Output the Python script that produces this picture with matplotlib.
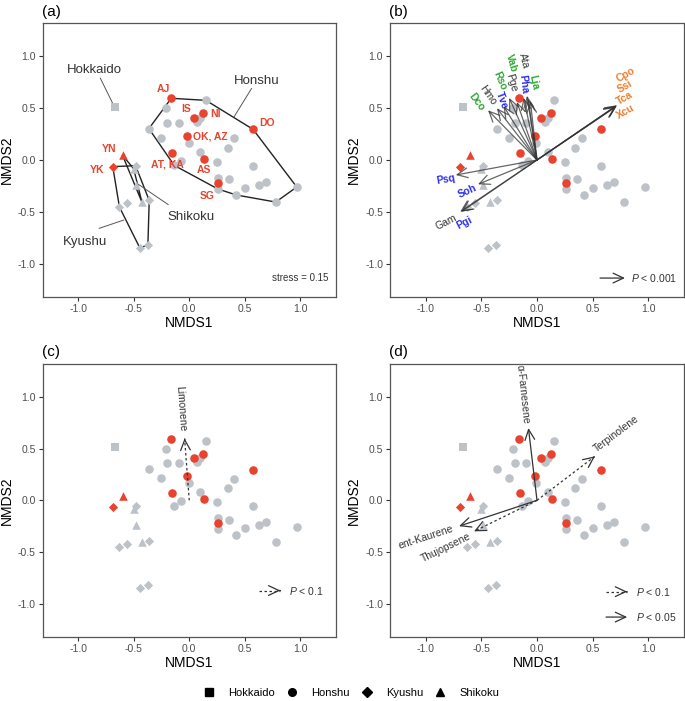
import matplotlib
matplotlib.use('Agg')
import matplotlib.pyplot as plt
from matplotlib.lines import Line2D
import numpy as np

plt.rcParams['font.family'] = ['Liberation Sans', 'DejaVu Sans']
plt.rcParams['mathtext.fontset'] = 'custom'
plt.rcParams['mathtext.it'] = 'Liberation Sans:italic'
plt.rcParams['mathtext.rm'] = 'Liberation Sans'

# NMDS scores, grey = populations, red = sampled sites
hokkaido_x = [-0.667]
hokkaido_y = [0.515]
honshu_x = [0.150, -0.213, -0.201, -0.096, -0.363, -0.252, 0.069, 0.099, -0.006,
            0.400, 0.345, 0.099, -0.078, -0.135, 0.252, 0.577, 0.258, 0.360,
            0.258, 0.423, 0.505, 0.628, 0.691, 0.778, 0.967]
honshu_y = [0.576, 0.499, 0.361, 0.361, 0.303, 0.216, 0.370, 0.409, 0.167,
            0.209, 0.119, 0.077, -0.010, -0.052, -0.016, -0.058, -0.174, -0.187,
            -0.280, -0.338, -0.270, -0.242, -0.213, -0.406, -0.261]
kyushu_x = [-0.483, -0.628, -0.556, -0.360, -0.444, -0.372]
kyushu_y = [-0.055, -0.454, -0.419, -0.390, -0.850, -0.818]
shikoku_x = [-0.500, -0.483, -0.426]
shikoku_y = [-0.084, -0.242, -0.406]

site_names = ['AJ', 'IS', 'NI', 'DO', 'OK, AZ', 'AT, KA', 'AS', 'SG', 'YN', 'YK']
site_region = ['Honshu'] * 8 + ['Shikoku', 'Kyushu']
site_x = [-0.162, 0.039, 0.123, 0.574, -0.018, -0.153, 0.132, 0.258, -0.600, -0.688]
site_y = [0.596, 0.409, 0.451, 0.296, 0.235, 0.071, 0.013, -0.219, 0.045, -0.064]

# envfit vectors (b)
vec_names = ['Cpo', 'Ssi', 'Tca', 'Xcu', 'Gam', 'Pgi', 'Psq', 'Soh', 'Dco', 'Hmo',
             'Tve', 'Rso', 'Pge', 'Vab', 'Ata', 'Pha', 'Lja']
vec_x = [0.72, 0.71, 0.715, 0.71, -0.69, -0.68, -0.73, -0.53, -0.44, -0.36,
         -0.30, -0.25, -0.18, -0.12, -0.09, -0.08, -0.06]
vec_y = [0.53, 0.52, 0.525, 0.515, -0.50, -0.50, -0.145, -0.235, 0.48, 0.50,
         0.52, 0.60, 0.56, 0.60, 0.62, 0.59, 0.57]
vec_group = ['o', 'o', 'o', 'o', 'k', 'b', 'b', 'b', 'g', 'k',
             'b', 'g', 'k', 'g', 'k', 'b', 'g']

# compound vectors (c), (d)
limo_x, limo_y = -0.042, 0.60
comp_names = ['α-Farnesene', 'Terpinolene', 'ent-Kaurene', 'Thujopsene']
comp_x = [-0.077, 0.52, -0.70, -0.565]
comp_y = [0.70, 0.426, -0.25, -0.30]
comp_p05 = [True, False, True, False]

GREY = '#BCC2C7'
RED = '#E8432F'
DARK = '#333333'
COLS = {'o': '#EE7D2B', 'k': '#333333', 'b': '#2B2BF0', 'g': '#2EA832'}
MARK = {'Hokkaido': 's', 'Honshu': 'o', 'Kyushu': 'D', 'Shikoku': '^'}
SIZE = {'Hokkaido': 28, 'Honshu': 38, 'Kyushu': 22, 'Shikoku': 38}


def points(ax):
    for reg, xs, ys in [('Hokkaido', hokkaido_x, hokkaido_y), ('Honshu', honshu_x, honshu_y),
                        ('Kyushu', kyushu_x, kyushu_y), ('Shikoku', shikoku_x, shikoku_y)]:
        ax.scatter(xs, ys, marker=MARK[reg], s=SIZE[reg], c=GREY, lw=0, zorder=2)
    for x, y, reg in zip(site_x, site_y, site_region):
        ax.scatter(x, y, marker=MARK[reg], s=SIZE[reg], c=RED, lw=0, zorder=3)


def arrow(ax, x, y, dashed=False, x0=0, y0=0, lw=0.9, alpha=1.0):
    ap = dict(arrowstyle='->,head_length=0.75,head_width=0.35', color=DARK, lw=lw,
              shrinkA=0, shrinkB=0, alpha=alpha)
    if dashed:
        ax.plot([x0, x], [y0, y], ls=(0, (2, 2)), color=DARK, lw=lw, zorder=4)
        ax.annotate('', xy=(x, y), xytext=(x0 + (x - x0) * 0.97, y0 + (y - y0) * 0.97),
                    arrowprops=ap, zorder=4)
    else:
        ax.annotate('', xy=(x, y), xytext=(x0, y0), arrowprops=ap, zorder=4)


def convex_hull(xs, ys):
    pts = sorted(zip(xs, ys))

    def cross(o, a, b):
        return (a[0] - o[0]) * (b[1] - o[1]) - (a[1] - o[1]) * (b[0] - o[0])
    lower, upper = [], []
    for p in pts:
        while len(lower) >= 2 and cross(lower[-2], lower[-1], p) <= 0:
            lower.pop()
        lower.append(p)
    for p in reversed(pts):
        while len(upper) >= 2 and cross(upper[-2], upper[-1], p) <= 0:
            upper.pop()
        upper.append(p)
    hull = lower[:-1] + upper[:-1]
    hull.append(hull[0])
    return [p[0] for p in hull], [p[1] for p in hull]


def style(ax):
    ax.set_xlim(-1.32, 1.32)
    ax.set_ylim(-1.32, 1.32)
    ax.set_xticks([-1.0, -0.5, 0.0, 0.5, 1.0])
    ax.set_yticks([-1.0, -0.5, 0.0, 0.5, 1.0])
    ax.set_xticklabels(['-1.0', '-0.5', '0.0', '0.5', '1.0'])
    ax.set_yticklabels(['-1.0', '-0.5', '0.0', '0.5', '1.0'])
    ax.tick_params(length=3, width=0.8, color=DARK, labelsize=7.5, labelcolor='#4D4D4D', pad=2)
    for s in ax.spines.values():
        s.set_color('#555555')
        s.set_linewidth(0.9)
    ax.set_xlabel('NMDS1', fontsize=10, labelpad=2)
    ax.set_ylabel('NMDS2', fontsize=10, labelpad=3)


fig = plt.figure(figsize=(6.85, 7.01), dpi=100)
W, H = 685, 701


def add_axes(left, top, right, bottom):
    return fig.add_axes([left / W, 1 - bottom / H, (right - left) / W, (bottom - top) / H])


ax_a = add_axes(42.5, 23.3, 336, 296.7)
ax_b = add_axes(390, 23.3, 684, 296.7)
ax_c = add_axes(42.5, 364, 336, 636.7)
ax_d = add_axes(390, 364, 684, 636.7)
for ax in (ax_a, ax_b, ax_c, ax_d):
    style(ax)
    points(ax)

for lab, x, y in [('(a)', 42, 11.7), ('(b)', 389, 11.7), ('(c)', 42, 352), ('(d)', 389, 352)]:
    fig.text(x / W, 1 - y / H, lab, fontsize=11, va='center', ha='left')

# (a) hulls
hon_all_x = honshu_x + site_x[:8]
hon_all_y = honshu_y + site_y[:8]
hx, hy = convex_hull(hon_all_x, hon_all_y)
ax_a.plot(hx, hy, color='#222222', lw=1.0, zorder=1)
hx, hy = convex_hull(kyushu_x + [site_x[9]], kyushu_y + [site_y[9]])
ax_a.plot(hx, hy, color='#222222', lw=1.0, zorder=1)
hx, hy = convex_hull(shikoku_x + [site_x[8]], shikoku_y + [site_y[8]])
ax_a.plot(hx, hy, color='#222222', lw=1.0, zorder=1)

for txt, tx, ty, l0, l1 in [('Hokkaido', -0.85, 0.865, (-0.80, 0.79), (-0.69, 0.55)),
                            ('Honshu', 0.605, 0.765, (0.56, 0.69), (0.405, 0.42)),
                            ('Shikoku', 0.02, -0.55, (-0.19, -0.43), (-0.47, -0.226)),
                            ('Kyushu', -0.94, -0.79, (-0.81, -0.66), (-0.59, -0.58))]:
    ax_a.text(tx, ty, txt, fontsize=9.5, color='#333333', ha='center', va='center')
    ax_a.plot([l0[0], l1[0]], [l0[1], l1[1]], color='#555555', lw=0.7, zorder=1)

site_lab_pos = [(-0.235, 0.69), (-0.025, 0.49), (0.237, 0.44), (0.695, 0.355), (0.19, 0.226),
                (-0.195, -0.04), (0.13, -0.097), (0.165, -0.345), (-0.72, 0.106), (-0.83, -0.097)]
for name, (tx, ty) in zip(site_names, site_lab_pos):
    ax_a.text(tx, ty, name, fontsize=7.5, color=RED, fontweight='bold', ha='center', va='center')
ax_a.text(1.25, -1.14, 'stress = 0.15', fontsize=7, color='#333333', ha='right', va='center')

# (b) vectors
for x, y in zip(vec_x, vec_y):
    arrow(ax_b, x, y, lw=0.9, alpha=0.75)
vec_lab = {'Dco': (-0.54, 0.56, -53), 'Hmo': (-0.44, 0.63, -55), 'Tve': (-0.32, 0.58, -70),
           'Rso': (-0.33, 0.76, -67), 'Pge': (-0.23, 0.75, -75), 'Vab': (-0.23, 0.94, -74),
           'Ata': (-0.12, 0.96, -75), 'Pha': (-0.12, 0.73, -83), 'Lja': (-0.03, 0.75, -78),
           'Cpo': (0.80, 0.82, 30), 'Ssi': (0.79, 0.71, 30), 'Tca': (0.79, 0.60, 30),
           'Xcu': (0.80, 0.47, 30), 'Psq': (-0.82, -0.19, 10), 'Soh': (-0.625, -0.30, 24),
           'Gam': (-0.82, -0.60, 27), 'Pgi': (-0.655, -0.61, 27)}
for name, grp in zip(vec_names, vec_group):
    tx, ty, rot = vec_lab[name]
    ax_b.text(tx, ty, name, fontsize=7.5, color=COLS[grp], rotation=rot,
              fontweight='normal' if grp == 'k' else 'bold',
              ha='center', va='center', rotation_mode='anchor')
arrow(ax_b, 0.79, -1.14, x0=0.566, y0=-1.14)
ax_b.text(0.84, -1.14, '$P$ < 0.001', fontsize=7.5, color='#333333', va='center')

# (c)
arrow(ax_c, limo_x, limo_y, dashed=True)
ax_c.text(-0.08, 0.89, 'Limonene', fontsize=7.5, color='#333333', rotation=-86,
          ha='center', va='center', rotation_mode='anchor')
arrow(ax_c, 0.82, -0.873, dashed=True, x0=0.625, y0=-0.873)
ax_c.text(0.895, -0.873, '$P$ < 0.1', fontsize=7.5, color='#333333', va='center')

# (d)
comp_lab = [(-0.128, 1.026, -84), (0.716, 0.64, 37), (-1.0, -0.36, 18), (-0.815, -0.458, 26)]
for name, x, y, p05, (tx, ty, rot) in zip(comp_names, comp_x, comp_y, comp_p05, comp_lab):
    arrow(ax_d, x, y, dashed=not p05)
    ax_d.text(tx, ty, name, fontsize=7.5, color='#333333', rotation=rot,
              ha='center', va='center', rotation_mode='anchor')
arrow(ax_d, 0.81, -0.884, dashed=True, x0=0.62, y0=-0.884)
ax_d.text(0.89, -0.884, '$P$ < 0.1', fontsize=7.5, color='#333333', va='center')
arrow(ax_d, 0.81, -1.13, x0=0.62, y0=-1.13)
ax_d.text(0.89, -1.13, '$P$ < 0.05', fontsize=7.5, color='#333333', va='center')

handles = [Line2D([], [], marker=MARK[r], color='black', ls='none',
                  markersize=5.5 if r != 'Kyushu' else 4.8, label=r)
           for r in ['Hokkaido', 'Honshu', 'Kyushu', 'Shikoku']]
fig.legend(handles=handles, loc='center', bbox_to_anchor=(0.513, 1 - 692.5 / H), ncol=4,
           frameon=False, fontsize=8, handletextpad=1.2, columnspacing=1.05,
           handlelength=1.0)

fig.savefig('out.png', dpi=100)
